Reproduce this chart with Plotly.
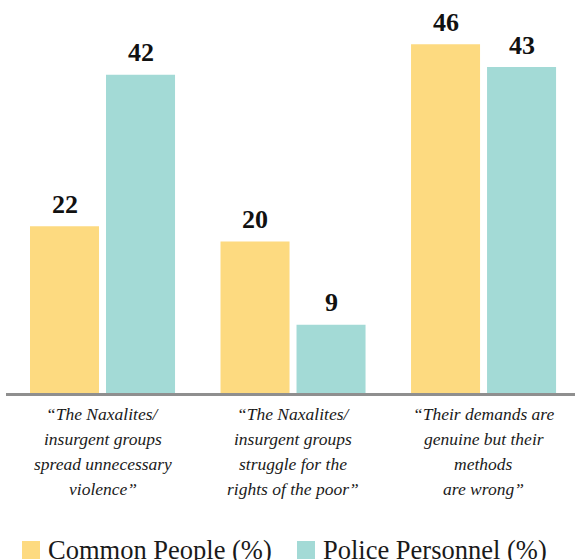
import plotly.graph_objects as go

categories = [
    ["“The Naxalites/", "insurgent groups", "spread unnecessary", "violence”"],
    ["“The Naxalites/", "insurgent groups", "struggle for the", "rights of the poor”"],
    ["“Their demands are", "genuine but their", "methods", "are wrong”"],
]
series_names = ["Common People (%)", "Police Personnel (%)"]
common_people = [22, 20, 46]
police_personnel = [42, 9, 43]
colors = ["#FDDA80", "#A3DAD6"]

x_pos = list(range(len(categories)))
SERIF = "Liberation Serif"

fig = go.Figure()
annotations = []
series_list = [common_people, police_personnel]
bar_offsets = [-38, 38]
for name, vals, col, off in zip(series_names, series_list, colors, bar_offsets):
    fig.add_trace(go.Bar(
        x=x_pos, y=vals, name=name, marker=dict(color=col, line=dict(width=0)),
        showlegend=False, hoverinfo="x+y+name",
    ))
    for xi, v in zip(x_pos, vals):
        annotations.append(dict(
            x=xi, xref="x", xshift=off, y=v, yref="y", yanchor="middle", yshift=22,
            text=str(v), showarrow=False,
            font=dict(family=SERIF, size=26, color="#111111", weight="bold"),
        ))

line_centers = [-21.4, -46.4, -71.4, -96.4]
for i, lines in enumerate(categories):
    for k, ln in enumerate(lines):
        annotations.append(dict(
            x=i, xref="x", y=0, yref="paper", yanchor="middle", xanchor="center",
            yshift=line_centers[k], text=ln, showarrow=False,
            font=dict(family=SERIF, size=17.5, color="#1a1a1a", style="italic"),
        ))

shapes = []
legend_offsets = [16, 291]
for name, col, off in zip(series_names, colors, legend_offsets):
    shapes.append(dict(
        type="rect", xref="paper", xsizemode="pixel", xanchor=0, x0=off, x1=off + 18,
        yref="paper", ysizemode="pixel", yanchor=0, y0=-148, y1=-166,
        fillcolor=col, line=dict(width=0),
    ))
    annotations.append(dict(
        x=0, xref="paper", xshift=off + 24, xanchor="left",
        y=0, yref="paper", yshift=-157.3, yanchor="middle",
        text=name, showarrow=False,
        font=dict(family=SERIF, size=26.5, color="#1a1a1a"),
    ))

fig.update_layout(
    width=575, height=560,
    margin=dict(l=6, r=0, t=14, b=167),
    paper_bgcolor="white", plot_bgcolor="white",
    barmode="group", bargap=0.202, bargroupgap=0.092,
    xaxis=dict(range=[-0.5066, 2.480], showticklabels=False, showgrid=False,
               zeroline=False, showline=True, linecolor="#8f8f8f", linewidth=2.5,
               ticks=""),
    yaxis=dict(range=[0, 50], visible=False, showgrid=False, zeroline=False),
    annotations=annotations, shapes=shapes,
)

fig.write_html("out.html")
